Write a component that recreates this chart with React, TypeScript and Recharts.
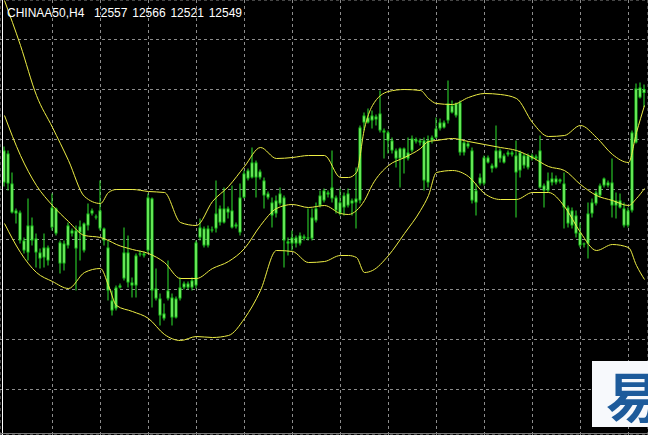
import { ComposedChart, Bar, Line, XAxis, YAxis, CartesianGrid } from "recharts"

const symbol = "CHINAA50"
const timeframe = "H4"

// one entry per H4 bar: open, high, low, close
const bars: [number, number, number, number][] = [
  [12370, 12442, 12362, 12434], [12428, 12434, 12354, 12368], [12368, 12390, 12308, 12310], [12308, 12318, 12288, 12314],
  [12310, 12314, 12248, 12254], [12254, 12260, 12228, 12234], [12230, 12338, 12214, 12284], [12284, 12300, 12244, 12254],
  [12258, 12268, 12200, 12230], [12230, 12238, 12198, 12218], [12220, 12268, 12200, 12240], [12240, 12244, 12204, 12214],
  [12280, 12348, 12274, 12320], [12318, 12320, 12264, 12268], [12250, 12254, 12188, 12208], [12208, 12254, 12194, 12248],
  [12244, 12290, 12238, 12284], [12274, 12278, 12262, 12268], [12274, 12284, 12154, 12238], [12270, 12294, 12214, 12282],
  [12234, 12290, 12230, 12288], [12284, 12328, 12274, 12308], [12308, 12318, 12304, 12314], [12302, 12306, 12296, 12300],
  [12278, 12374, 12274, 12314], [12278, 12280, 12244, 12254], [12240, 12254, 12134, 12154], [12134, 12154, 12104, 12114],
  [12118, 12164, 12114, 12160], [12160, 12168, 12158, 12164], [12178, 12280, 12174, 12230], [12230, 12264, 12160, 12170],
  [12170, 12180, 12140, 12164], [12164, 12228, 12140, 12224], [12226, 12234, 12222, 12228], [12228, 12232, 12220, 12224],
  [12234, 12348, 12230, 12340], [12338, 12340, 12120, 12154], [12158, 12198, 12134, 12138], [12138, 12148, 12084, 12104],
  [12098, 12128, 12094, 12108], [12138, 12214, 12134, 12154], [12140, 12148, 12084, 12100], [12100, 12142, 12098, 12138],
  [12138, 12180, 12134, 12160], [12160, 12172, 12156, 12168], [12168, 12172, 12156, 12160], [12160, 12180, 12154, 12174],
  [12164, 12254, 12158, 12250], [12260, 12298, 12254, 12280], [12278, 12282, 12240, 12244], [12244, 12284, 12240, 12278],
  [12276, 12282, 12270, 12274], [12278, 12374, 12270, 12308], [12290, 12324, 12284, 12318], [12318, 12360, 12288, 12290],
  [12310, 12322, 12298, 12318], [12314, 12364, 12278, 12280], [12286, 12290, 12278, 12282], [12270, 12368, 12264, 12340],
  [12340, 12394, 12338, 12388], [12394, 12398, 12374, 12378], [12380, 12440, 12378, 12410], [12410, 12414, 12340, 12380],
  [12380, 12396, 12376, 12392], [12374, 12380, 12318, 12344], [12348, 12352, 12336, 12340], [12330, 12340, 12280, 12304],
  [12308, 12344, 12300, 12334], [12328, 12360, 12324, 12348], [12340, 12344, 12200, 12254], [12252, 12260, 12224, 12248],
  [12248, 12274, 12234, 12260], [12260, 12264, 12240, 12248], [12248, 12270, 12244, 12264], [12262, 12266, 12254, 12258],
  [12258, 12318, 12254, 12260], [12258, 12318, 12254, 12300], [12294, 12330, 12290, 12318], [12324, 12354, 12320, 12344],
  [12334, 12358, 12330, 12354], [12350, 12354, 12340, 12346], [12338, 12434, 12330, 12360], [12340, 12344, 12308, 12314],
  [12308, 12358, 12304, 12330], [12320, 12350, 12304, 12344], [12348, 12358, 12320, 12324], [12328, 12338, 12304, 12334],
  [12338, 12400, 12278, 12330], [12334, 12484, 12328, 12480], [12490, 12510, 12474, 12504], [12500, 12518, 12488, 12490],
  [12494, 12514, 12478, 12504], [12502, 12506, 12484, 12496], [12474, 12554, 12470, 12508], [12474, 12478, 12418, 12470],
  [12470, 12474, 12428, 12454], [12454, 12460, 12428, 12434], [12434, 12438, 12400, 12418], [12418, 12440, 12360, 12438],
  [12438, 12440, 12388, 12418], [12418, 12460, 12414, 12430], [12434, 12464, 12430, 12458], [12456, 12460, 12448, 12452],
  [12454, 12458, 12444, 12450], [12454, 12460, 12354, 12374], [12370, 12464, 12360, 12454], [12454, 12464, 12448, 12460],
  [12460, 12500, 12458, 12478], [12478, 12498, 12474, 12490], [12490, 12494, 12478, 12480], [12494, 12574, 12488, 12528],
  [12524, 12534, 12508, 12510], [12504, 12530, 12500, 12528], [12530, 12534, 12424, 12430], [12430, 12454, 12424, 12450],
  [12448, 12452, 12438, 12442], [12434, 12440, 12328, 12334], [12330, 12368, 12304, 12354], [12368, 12388, 12364, 12380],
  [12368, 12424, 12364, 12420], [12420, 12424, 12408, 12410], [12404, 12408, 12390, 12398], [12400, 12484, 12398, 12434],
  [12434, 12438, 12410, 12418], [12410, 12428, 12408, 12424], [12426, 12434, 12422, 12430], [12430, 12434, 12422, 12426],
  [12424, 12454, 12300, 12390], [12394, 12434, 12380, 12430], [12424, 12428, 12398, 12404], [12400, 12428, 12396, 12424],
  [12424, 12428, 12414, 12418], [12418, 12426, 12414, 12422], [12434, 12464, 12358, 12360], [12364, 12368, 12320, 12354],
  [12354, 12390, 12350, 12374], [12370, 12390, 12364, 12378], [12378, 12384, 12366, 12370], [12372, 12378, 12368, 12376],
  [12368, 12390, 12278, 12320], [12320, 12324, 12280, 12288], [12284, 12320, 12278, 12314], [12304, 12314, 12260, 12268],
  [12270, 12290, 12240, 12244], [12246, 12250, 12240, 12248], [12248, 12330, 12218, 12308], [12308, 12338, 12300, 12330],
  [12328, 12354, 12324, 12350], [12344, 12368, 12340, 12364], [12364, 12380, 12360, 12378], [12370, 12374, 12360, 12364],
  [12370, 12418, 12300, 12324], [12324, 12350, 12298, 12334], [12334, 12348, 12318, 12320], [12318, 12330, 12280, 12284],
  [12284, 12320, 12280, 12314], [12314, 12474, 12310, 12470], [12450, 12568, 12448, 12558], [12540, 12570, 12538, 12560],
  [12557, 12566, 12521, 12549],
]

// Bollinger bands at these bars
const bandBars = [0, 4, 8, 12, 16, 20, 24, 26, 28, 32, 36, 40, 44, 48, 52, 56, 60, 64, 68, 72, 76, 80, 84, 86, 88, 90, 92, 96, 100, 104, 106, 108, 112, 116, 120, 124, 128, 132, 136, 140, 144, 148, 152, 156, 158, 160]
const upperBand = [12734, 12644, 12544, 12480, 12414, 12342, 12328, 12350, 12356, 12356, 12352, 12350, 12290, 12284, 12332, 12362, 12402, 12440, 12418, 12420, 12424, 12424, 12380, 12380, 12390, 12478, 12524, 12552, 12556, 12554, 12538, 12528, 12526, 12540, 12548, 12546, 12538, 12490, 12462, 12464, 12484, 12460, 12426, 12410, 12470, 12524]
const middleBand = [12504, 12424, 12364, 12324, 12292, 12264, 12260, 12254, 12246, 12236, 12228, 12210, 12178, 12178, 12198, 12212, 12238, 12284, 12318, 12326, 12320, 12324, 12308, 12306, 12314, 12334, 12366, 12404, 12420, 12438, 12452, 12454, 12458, 12452, 12446, 12440, 12434, 12420, 12402, 12394, 12366, 12344, 12334, 12324, 12338, 12358]
const lowerBand = [12288, 12230, 12190, 12172, 12158, 12190, 12198, 12164, 12124, 12112, 12098, 12066, 12054, 12062, 12060, 12064, 12098, 12154, 12234, 12232, 12210, 12212, 12224, 12224, 12220, 12190, 12194, 12224, 12268, 12314, 12344, 12390, 12394, 12382, 12348, 12336, 12336, 12350, 12350, 12322, 12270, 12234, 12246, 12240, 12204, 12176]

const gridPrices = [11956, 12056, 12156, 12256, 12356, 12456, 12556, 12656]
const gridBars = [12, 24, 36, 48, 60, 72, 84, 96, 108, 120, 132, 144, 156]

const data = bars.map(([open, high, low, close], i) => {
  const k = bandBars.indexOf(i)
  return {
    i,
    open,
    high,
    low,
    close,
    range: [low, high],
    upper: k >= 0 ? upperBand[k] : null,
    middle: k >= 0 ? middleBand[k] : null,
    lower: k >= 0 ? lowerBand[k] : null,
  }
})

const last = bars[bars.length - 1]
const title = `${symbol},${timeframe}  ${last[0]} ${last[1]} ${last[2]} ${last[3]}`

function Candle(props: any) {
  const { x, y, width, height, payload } = props
  if (!payload || x == null) return null
  const cx = x + width / 2
  const top = Math.min(y, y + height)
  const h = Math.abs(height)
  const { open, high, low, close } = payload
  const k = high > low ? h / (high - low) : 0
  const bodyTop = top + (high - Math.max(open, close)) * k
  const bodyH = Math.max(1, Math.abs(open - close) * k)
  return (
    <g>
      <line x1={cx} x2={cx} y1={top} y2={top + h} stroke="#2ee62e" strokeWidth={1} />
      <rect x={cx - 1.5} y={bodyTop} width={3} height={bodyH} fill="#1fcf1f" />
      {bodyH > 2 && (
        <rect x={cx - 0.5} y={bodyTop + 1} width={1} height={bodyH - 2} fill="#a8ff8c" />
      )}
    </g>
  )
}

export default function App() {
  return (
    <div
      style={{
        position: "absolute",
        left: 0,
        top: 0,
        width: 648,
        height: 435,
        background: "#000",
        overflow: "hidden",
      }}
    >
      <ComposedChart
        width={648}
        height={435}
        data={data}
        margin={{ top: 0, right: 0, bottom: 0, left: 0 }}
      >
        <XAxis
          dataKey="i"
          type="number"
          domain={[-1.125, 160.875]}
          ticks={gridBars}
          allowDataOverflow
          hide
        />
        <YAxis
          type="number"
          domain={[11865, 12735]}
          ticks={gridPrices}
          allowDataOverflow
          hide
        />
        <CartesianGrid stroke="#8c8c8c" strokeDasharray="3 3" />
        <Bar
          dataKey="range"
          barSize={3}
          shape={<Candle />}
          isAnimationActive={false}
        />
        <Line
          dataKey="upper"
          type="monotone"
          stroke="#eeee44"
          strokeWidth={1}
          dot={false}
          activeDot={false}
          connectNulls
          isAnimationActive={false}
        />
        <Line
          dataKey="middle"
          type="monotone"
          stroke="#eeee44"
          strokeWidth={1}
          dot={false}
          activeDot={false}
          connectNulls
          isAnimationActive={false}
        />
        <Line
          dataKey="lower"
          type="monotone"
          stroke="#eeee44"
          strokeWidth={1}
          dot={false}
          activeDot={false}
          connectNulls
          isAnimationActive={false}
        />
      </ComposedChart>

      <div
        style={{
          position: "absolute",
          left: 2,
          top: 0,
          width: 1,
          height: 435,
          background: "#ffffff",
        }}
      />
      <div
        style={{
          position: "absolute",
          left: 0,
          top: 433,
          width: 648,
          height: 1,
          background: "#7a7a7a",
        }}
      />
      <div
        style={{
          position: "absolute",
          left: 7,
          top: 6,
          color: "#ffffff",
          fontFamily: "'Liberation Sans', Arial, sans-serif",
          fontSize: 12,
          whiteSpace: "pre",
          wordSpacing: 1.5,
        }}
      >
        {title}
      </div>
      <div
        style={{
          position: "absolute",
          left: 592,
          top: 361,
          width: 56,
          height: 66,
          background: "#f7f9fc",
          overflow: "hidden",
        }}
      >
        <span
          style={{
            position: "absolute",
            left: 14,
            top: 7,
            fontFamily: "'Noto Sans CJK SC', sans-serif",
            fontSize: 54,
            fontWeight: 700,
            lineHeight: 1,
            color: "#1d5b9b",
          }}
        >
          易
        </span>
      </div>
    </div>
  )
}
